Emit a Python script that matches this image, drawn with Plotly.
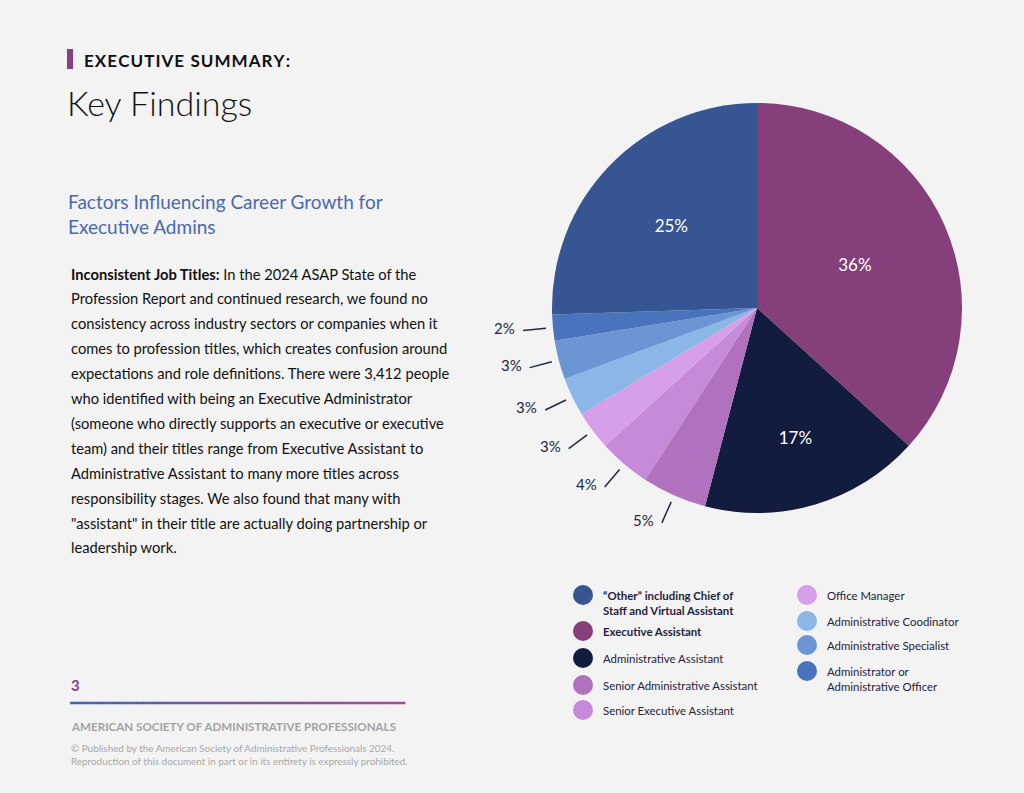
import math
import plotly.graph_objects as go

# ---------------- data ----------------
categories = [
    "Executive Assistant",
    "Administrative Assistant",
    "Senior Administrative Assistant",
    "Senior Executive Assistant",
    "Office Manager",
    "Administrative Coodinator",
    "Administrative Specialist",
    "Administrator or Administrative Officer",
    "\u201cOther\u201d including Chief of Staff and Virtual Assistant",
]
values = [36, 17, 5, 4, 3, 3, 3, 2, 25]
colors = ["#853f7b", "#121c3f", "#b071bf", "#c68ad8", "#d79ee9",
          "#8ab6e8", "#6b96d3", "#4a73bd", "#365592"]
label_inside = [True, True, False, False, False, False, False, False, True]

legend_col1 = [8, 0, 1, 2, 3]
legend_col2 = [4, 5, 6, 7]
legend_text = {
    8: "<b>\u201cOther\u201d including Chief of<br>Staff and Virtual Assistant</b>",
    0: "<b>Executive Assistant</b>",
    1: "Administrative Assistant",
    2: "Senior Administrative Assistant",
    3: "Senior Executive Assistant",
    4: "Office Manager",
    5: "Administrative Coodinator",
    6: "Administrative Specialist",
    7: "Administrator or<br>Administrative Officer",
}

body_lines = [
    "<b>Inconsistent Job Titles:</b> In the 2024 ASAP State of the",
    "Profession Report and continued research, we found no",
    "consistency across industry sectors or companies when it",
    "comes to profession titles, which creates confusion around",
    "expectations and role definitions. There were 3,412 people",
    "who identified with being an Executive Administrator",
    "(someone who directly supports an executive or executive",
    "team) and their titles range from Executive Assistant to",
    "Administrative Assistant to many more titles across",
    "responsibility stages. We also found that many with",
    "\"assistant\" in their title are actually doing partnership or",
    "leadership work.",
]

# ---------------- layout constants ----------------
W, H = 1024, 793
BG = "#f3f3f3"
FONT = "Lato"
CX, CY, R = 757, 308, 205
DARK = "#222944"

fig = go.Figure()

texts = [f"{v}%" for v in values]
fig.add_trace(go.Pie(
    labels=categories, values=values, sort=False, direction="clockwise",
    rotation=0, marker=dict(colors=colors, line=dict(width=0)),
    text=texts, textinfo="text",
    textposition=["inside" if f else "none" for f in label_inside],
    insidetextorientation="horizontal",
    insidetextfont=dict(color="white", size=17, family=FONT),
    domain=dict(x=[(CX - R) / W, (CX + R) / W],
                y=[1 - (CY + R) / H, 1 - (CY - R) / H]),
    showlegend=False, hoverinfo="label+text",
))

shapes = []
annotations = []

# outside labels with leader lines
total = sum(values)
cum = 0
for v, t, inside in zip(values, texts, label_inside):
    mid = (cum + v / 2) / total * 2 * math.pi
    cum += v
    if inside:
        continue
    s, c = math.sin(mid), math.cos(mid)
    x1, y1 = CX + 212 * s, CY - 212 * c
    x2, y2 = CX + 235 * s, CY - 235 * c
    shapes.append(dict(type="line", xref="x", yref="y", x0=x1, y0=y1, x1=x2, y1=y2,
                       line=dict(color=DARK, width=1.5)))
    annotations.append(dict(x=x2 - 6, y=y2 - 3, xref="x", yref="y", text=t,
                            showarrow=False, xanchor="right", yanchor="middle",
                            font=dict(size=15, color=DARK, family=FONT)))

# legend
legend_x = []
legend_y = []
legend_c = []
for colx, idxs, ys in [(583, legend_col1, [595, 631, 658, 685, 710]),
                       (807, legend_col2, [595, 621, 645, 671])]:
    for i, yy in zip(idxs, ys):
        legend_x.append(colx)
        legend_y.append(yy)
        legend_c.append(colors[i])
        annotations.append(dict(x=colx + 18, y=yy - 8, xref="x", yref="y",
                                text=legend_text[i], showarrow=False,
                                xanchor="left", yanchor="top", align="left",
                                font=dict(size=11.4, color="#1e2340", family=FONT)))
fig.add_trace(go.Scatter(x=legend_x, y=legend_y, mode="markers",
                         marker=dict(size=20, color=legend_c, line=dict(width=0)),
                         showlegend=False, hoverinfo="skip"))

# header
shapes.append(dict(type="rect", xref="x", yref="y", x0=67, x1=73, y0=49, y1=69,
                   fillcolor="#8a3f84", line=dict(width=0)))
annotations.append(dict(x=82, y=60, xref="x", yref="y",
                        text="<b>" + "\u200a".join("EXECUTIVE SUMMARY:") + "</b>",
                        showarrow=False, xanchor="left", yanchor="middle",
                        font=dict(size=17, color="#111111", family=FONT)))
annotations.append(dict(x=65, y=102, xref="x", yref="y", text="Key Findings",
                        showarrow=False, xanchor="left", yanchor="middle",
                        font=dict(size=34, color="#111111", family=FONT, weight=300)))
for k, line in enumerate(["Factors Influencing Career Growth for", "Executive Admins"]):
    annotations.append(dict(x=66, y=201 + 25 * k, xref="x", yref="y", text=line,
                            showarrow=False, xanchor="left", yanchor="middle",
                            font=dict(size=19, color="#4a6ab0", family=FONT)))

for k, line in enumerate(body_lines):
    annotations.append(dict(x=69, y=273.5 + 24.9 * k, xref="x", yref="y", text=line,
                            showarrow=False, xanchor="left", yanchor="middle",
                            font=dict(size=14.7, color="#111111", family=FONT)))

# footer
annotations.append(dict(x=69, y=685, xref="x", yref="y", text="<b>3</b>",
                        showarrow=False, xanchor="left", yanchor="middle",
                        font=dict(size=15, color="#8a3f84", family=FONT)))
n = 60
c0 = (0x4b, 0x63, 0xab)
c1 = (0xa0, 0x4c, 0x91)
for k in range(n):
    f = k / (n - 1)
    col = "rgb({},{},{})".format(*[round(a + (b - a) * f) for a, b in zip(c0, c1)])
    xa = 70 + (405 - 70) * k / n
    xb = 70 + (405 - 70) * (k + 1) / n + 0.5
    shapes.append(dict(type="line", xref="x", yref="y", x0=xa, x1=xb, y0=703, y1=703,
                       line=dict(color=col, width=2.5)))
annotations.append(dict(x=69, y=726, xref="x", yref="y",
                        text="<b>AMERICAN SOCIETY OF ADMINISTRATIVE PROFESSIONALS</b>",
                        showarrow=False, xanchor="left", yanchor="middle",
                        font=dict(size=11.6, color="#a3a3a3", family=FONT)))
for k, line in enumerate([
        "\u00a9 Published by the American Society of Administrative Professionals 2024.",
        "Reproduction of this document in part or in its entirety is expressly prohibited."]):
    annotations.append(dict(x=69, y=748 + 13 * k, xref="x", yref="y", text=line,
                            showarrow=False, xanchor="left", yanchor="middle",
                            font=dict(size=9.9, color="#a8a8a8", family=FONT)))

fig.update_layout(
    width=W, height=H, margin=dict(l=0, r=0, t=0, b=0),
    paper_bgcolor=BG, plot_bgcolor="rgba(0,0,0,0)",
    font=dict(family=FONT),
    xaxis=dict(range=[0, W], visible=False, fixedrange=True, domain=[0, 1]),
    yaxis=dict(range=[H, 0], visible=False, fixedrange=True, domain=[0, 1]),
    shapes=shapes, annotations=annotations, showlegend=False,
)
fig.write_html(
    "out.html",
    config={"displayModeBar": False},
    post_script="document.body.style.margin='0';"
                "document.body.style.overflow='hidden';"
                "document.body.style.background='" + BG + "';",
)
